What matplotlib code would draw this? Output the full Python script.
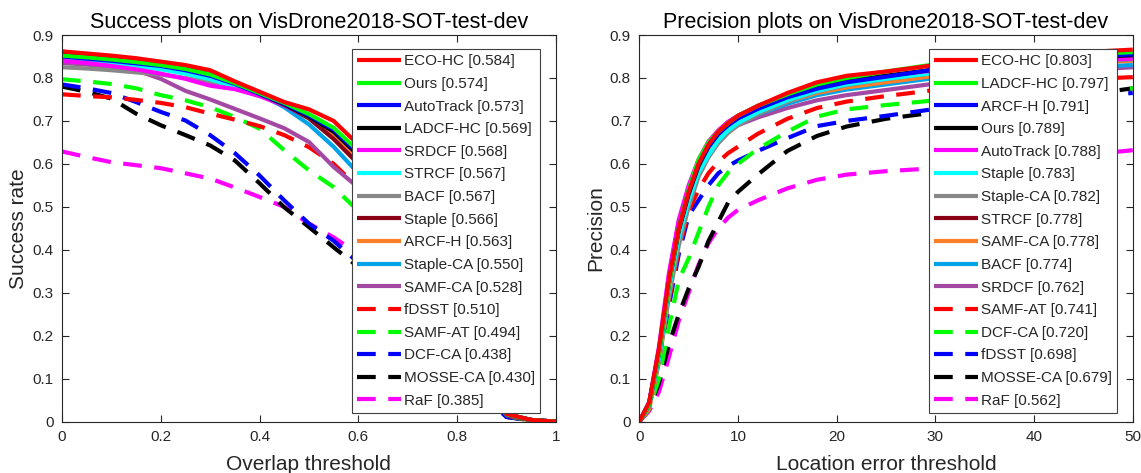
import numpy as np
import matplotlib
matplotlib.use("Agg")
import matplotlib.pyplot as plt

plt.rcParams['font.family'] = ['Liberation Sans', 'DejaVu Sans']

# ---- success plot data (overlap threshold 0:0.05:1) ----
succ_x = [0, 0.05, 0.1, 0.15, 0.2, 0.25, 0.3, 0.35, 0.4, 0.45, 0.5,
          0.55, 0.6, 0.65, 0.7, 0.75, 0.8, 0.85, 0.9, 0.95, 1.0]

s_eco = [0.862, 0.857, 0.852, 0.846, 0.838, 0.830, 0.818, 0.792, 0.768, 0.744, 0.727,
         0.700, 0.645, 0.570, 0.480, 0.370, 0.250, 0.120, 0.018, 0.004, 0]
s_ours = [0.852, 0.848, 0.843, 0.837, 0.830, 0.821, 0.808, 0.788, 0.765, 0.742, 0.716,
          0.684, 0.630, 0.555, 0.465, 0.360, 0.245, 0.115, 0.017, 0.004, 0]
s_auto = [0.850, 0.845, 0.840, 0.834, 0.828, 0.818, 0.805, 0.786, 0.763, 0.740, 0.713,
          0.680, 0.625, 0.550, 0.462, 0.358, 0.244, 0.115, 0.017, 0.004, 0]
s_ladcf = [0.857, 0.852, 0.846, 0.840, 0.832, 0.822, 0.808, 0.788, 0.763, 0.738, 0.710,
           0.675, 0.620, 0.547, 0.458, 0.355, 0.243, 0.114, 0.017, 0.004, 0]
s_srdcf = [0.840, 0.835, 0.828, 0.820, 0.810, 0.798, 0.782, 0.774, 0.758, 0.736, 0.710,
           0.675, 0.620, 0.546, 0.457, 0.354, 0.242, 0.114, 0.017, 0.004, 0]
s_strcf = [0.845, 0.840, 0.834, 0.828, 0.820, 0.810, 0.797, 0.780, 0.760, 0.738, 0.712,
           0.676, 0.620, 0.546, 0.457, 0.353, 0.242, 0.113, 0.017, 0.004, 0]
s_bacf = [0.825, 0.822, 0.818, 0.813, 0.808, 0.800, 0.790, 0.776, 0.758, 0.738, 0.712,
          0.678, 0.620, 0.545, 0.456, 0.352, 0.241, 0.113, 0.017, 0.004, 0]
s_staple = [0.857, 0.851, 0.845, 0.838, 0.830, 0.820, 0.806, 0.788, 0.765, 0.738, 0.706,
            0.658, 0.600, 0.530, 0.445, 0.345, 0.238, 0.112, 0.016, 0.004, 0]
s_arcf = [0.848, 0.843, 0.838, 0.832, 0.825, 0.816, 0.803, 0.786, 0.764, 0.738, 0.708,
          0.668, 0.610, 0.535, 0.448, 0.347, 0.239, 0.112, 0.016, 0.004, 0]
s_stapleca = [0.845, 0.840, 0.835, 0.830, 0.824, 0.815, 0.803, 0.786, 0.762, 0.732, 0.692,
              0.640, 0.578, 0.505, 0.425, 0.330, 0.228, 0.108, 0.016, 0.004, 0]
s_samfca = [0.835, 0.831, 0.826, 0.818, 0.798, 0.770, 0.750, 0.728, 0.706, 0.683, 0.651,
            0.593, 0.545, 0.478, 0.400, 0.312, 0.218, 0.104, 0.015, 0.004, 0]
s_fdsst = [0.762, 0.758, 0.755, 0.749, 0.742, 0.732, 0.717, 0.703, 0.688, 0.667, 0.639,
           0.600, 0.545, 0.475, 0.390, 0.300, 0.200, 0.090, 0.014, 0.003, 0]
s_samfat = [0.797, 0.792, 0.786, 0.776, 0.760, 0.748, 0.732, 0.709, 0.682, 0.632, 0.585,
            0.546, 0.490, 0.420, 0.345, 0.265, 0.180, 0.085, 0.013, 0.003, 0]
s_dcfca = [0.785, 0.776, 0.765, 0.744, 0.721, 0.701, 0.667, 0.625, 0.573, 0.515, 0.461,
           0.421, 0.370, 0.310, 0.250, 0.185, 0.120, 0.060, 0.011, 0.003, 0]
s_mosse = [0.780, 0.768, 0.752, 0.717, 0.690, 0.667, 0.643, 0.608, 0.555, 0.499, 0.453,
           0.406, 0.360, 0.300, 0.240, 0.180, 0.118, 0.058, 0.011, 0.003, 0]
s_raf = [0.629, 0.616, 0.604, 0.597, 0.590, 0.578, 0.566, 0.545, 0.523, 0.500, 0.461,
         0.429, 0.390, 0.330, 0.270, 0.200, 0.135, 0.065, 0.012, 0.003, 0]

succ_names = ['ECO-HC', 'Ours', 'AutoTrack', 'LADCF-HC', 'SRDCF', 'STRCF', 'BACF',
              'Staple', 'ARCF-H', 'Staple-CA', 'SAMF-CA', 'fDSST', 'SAMF-AT',
              'DCF-CA', 'MOSSE-CA', 'RaF']
succ_scores = [0.584, 0.574, 0.573, 0.569, 0.568, 0.567, 0.567, 0.566, 0.563,
               0.550, 0.528, 0.510, 0.494, 0.438, 0.430, 0.385]
succ_curves = [s_eco, s_ours, s_auto, s_ladcf, s_srdcf, s_strcf, s_bacf, s_staple,
               s_arcf, s_stapleca, s_samfca, s_fdsst, s_samfat, s_dcfca, s_mosse, s_raf]

# ---- precision plot data (location error threshold) ----
prec_x = [0, 1, 2, 3, 4, 5, 6, 7, 8, 9, 10, 12, 15, 18, 21, 25, 30, 35, 40, 45, 50]

p_eco = [0, 0.045, 0.170, 0.330, 0.450, 0.535, 0.600, 0.645, 0.675, 0.695, 0.712,
         0.735, 0.765, 0.790, 0.805, 0.815, 0.830, 0.842, 0.852, 0.860, 0.866]
p_ladcf = [0, 0.040, 0.160, 0.320, 0.450, 0.540, 0.610, 0.650, 0.675, 0.695, 0.712,
           0.735, 0.762, 0.785, 0.800, 0.815, 0.832, 0.842, 0.850, 0.856, 0.860]
p_arcf = [0, 0.042, 0.165, 0.325, 0.450, 0.535, 0.600, 0.640, 0.670, 0.690, 0.706,
          0.728, 0.755, 0.775, 0.790, 0.803, 0.820, 0.832, 0.842, 0.850, 0.855]
p_ours = [0, 0.040, 0.160, 0.320, 0.445, 0.530, 0.595, 0.640, 0.670, 0.692, 0.708,
          0.730, 0.757, 0.778, 0.792, 0.805, 0.820, 0.830, 0.840, 0.848, 0.853]
p_auto = [0, 0.045, 0.175, 0.345, 0.470, 0.550, 0.610, 0.652, 0.678, 0.698, 0.712,
          0.735, 0.760, 0.780, 0.793, 0.805, 0.818, 0.828, 0.835, 0.840, 0.845]
p_staple = [0, 0.040, 0.150, 0.310, 0.430, 0.515, 0.580, 0.620, 0.655, 0.678, 0.695,
            0.720, 0.748, 0.770, 0.785, 0.798, 0.812, 0.825, 0.835, 0.842, 0.848]
p_stapleca = [0, 0.035, 0.140, 0.290, 0.410, 0.500, 0.570, 0.615, 0.648, 0.672, 0.690,
              0.715, 0.745, 0.768, 0.783, 0.797, 0.812, 0.823, 0.832, 0.838, 0.843]
p_strcf = [0, 0.040, 0.160, 0.325, 0.450, 0.535, 0.600, 0.645, 0.675, 0.697, 0.712,
           0.732, 0.757, 0.777, 0.790, 0.802, 0.815, 0.827, 0.838, 0.847, 0.853]
p_samfca = [0, 0.030, 0.140, 0.300, 0.430, 0.520, 0.585, 0.630, 0.660, 0.682, 0.698,
            0.720, 0.745, 0.765, 0.778, 0.790, 0.805, 0.818, 0.828, 0.836, 0.840]
p_bacf = [0, 0.045, 0.165, 0.330, 0.450, 0.530, 0.590, 0.632, 0.660, 0.680, 0.695,
          0.715, 0.740, 0.760, 0.773, 0.785, 0.800, 0.812, 0.820, 0.826, 0.830]
p_srdcf = [0, 0.040, 0.170, 0.340, 0.465, 0.545, 0.600, 0.635, 0.660, 0.677, 0.690,
           0.708, 0.730, 0.748, 0.760, 0.772, 0.787, 0.800, 0.810, 0.818, 0.825]
p_samfat = [0, 0.040, 0.150, 0.280, 0.400, 0.490, 0.540, 0.578, 0.605, 0.625, 0.640,
            0.670, 0.705, 0.730, 0.745, 0.758, 0.772, 0.782, 0.790, 0.797, 0.802]
p_dcfca = [0, 0.030, 0.100, 0.220, 0.330, 0.380, 0.440, 0.500, 0.550, 0.580, 0.600,
           0.635, 0.675, 0.710, 0.727, 0.737, 0.748, 0.758, 0.766, 0.772, 0.776]
p_fdsst = [0, 0.040, 0.140, 0.270, 0.390, 0.480, 0.515, 0.550, 0.578, 0.595, 0.608,
           0.630, 0.660, 0.688, 0.700, 0.712, 0.728, 0.740, 0.750, 0.758, 0.765]
p_mosse = [0, 0.030, 0.090, 0.180, 0.250, 0.310, 0.360, 0.420, 0.465, 0.510, 0.535,
           0.575, 0.630, 0.665, 0.687, 0.705, 0.720, 0.730, 0.742, 0.760, 0.776]
p_raf = [0, 0.025, 0.070, 0.150, 0.235, 0.300, 0.365, 0.415, 0.450, 0.475, 0.493,
         0.515, 0.543, 0.563, 0.575, 0.583, 0.590, 0.600, 0.610, 0.620, 0.632]

prec_names = ['ECO-HC', 'LADCF-HC', 'ARCF-H', 'Ours', 'AutoTrack', 'Staple',
              'Staple-CA', 'STRCF', 'SAMF-CA', 'BACF', 'SRDCF', 'SAMF-AT',
              'DCF-CA', 'fDSST', 'MOSSE-CA', 'RaF']
prec_scores = [0.803, 0.797, 0.791, 0.789, 0.788, 0.783, 0.782, 0.778, 0.778,
               0.774, 0.762, 0.741, 0.720, 0.698, 0.679, 0.562]
prec_curves = [p_eco, p_ladcf, p_arcf, p_ours, p_auto, p_staple, p_stapleca, p_strcf,
               p_samfca, p_bacf, p_srdcf, p_samfat, p_dcfca, p_fdsst, p_mosse, p_raf]

# OTB-style colour / line style per rank
colors = ['#ff0000', '#00ff00', '#0000ff', '#000000', '#ff00ff', '#00ffff',
          '#888888', '#880015', '#ff7f27', '#00a2e8', '#a349a4',
          '#ff0000', '#00ff00', '#0000ff', '#000000', '#ff00ff']
styles = ['-'] * 11 + [(0, (4.5, 3))] * 5

fig = plt.figure(figsize=(11.41, 4.73), dpi=100)
ax1 = fig.add_axes([0.0543, 0.1085, 0.4329, 0.8175])
ax2 = fig.add_axes([0.5603, 0.1085, 0.4325, 0.8175])

axcol = '#262626'


def draw(ax, xs, curves, names, scores, title, xlabel, ylabel, xlim, xticks, xticklabels):
    lines = []
    for i in range(len(curves) - 1, -1, -1):
        ln, = ax.plot(xs, curves[i], color=colors[i], linestyle=styles[i], lw=3,
                      label='%s [%.3f]' % (names[i], scores[i]),
                      solid_capstyle='butt', dash_capstyle='butt')
        lines.append(ln)
    lines = lines[::-1]
    ax.set_xlim(*xlim)
    ax.set_ylim(0, 0.9)
    ax.set_xticks(xticks)
    ax.set_xticklabels(xticklabels)
    ax.set_yticks([0, 0.1, 0.2, 0.3, 0.4, 0.5, 0.6, 0.7, 0.8, 0.9])
    ax.set_yticklabels(['0', '0.1', '0.2', '0.3', '0.4', '0.5', '0.6', '0.7', '0.8', '0.9'])
    ax.tick_params(direction='in', top=True, right=True, length=5, width=0.8,
                   labelsize=11, colors=axcol, pad=6)
    for s in ax.spines.values():
        s.set_color(axcol)
        s.set_linewidth(0.8)
    ax.set_title(title, fontsize=15.5, pad=5)
    ax.set_xlabel(xlabel, fontsize=15, color=axcol, labelpad=8)
    ax.set_ylabel(ylabel, fontsize=15, color=axcol, labelpad=3)
    leg = ax.legend(handles=lines, loc='upper right', bbox_to_anchor=(0.968, 0.964),
                    borderaxespad=0, fontsize=11, frameon=True, fancybox=False,
                    handlelength=2.9, handletextpad=0.15, labelspacing=0.565,
                    borderpad=0.35, framealpha=1)
    leg.get_frame().set_edgecolor('#404040')
    leg.get_frame().set_linewidth(0.8)
    for t in leg.get_texts():
        t.set_color(axcol)


draw(ax1, succ_x, succ_curves, succ_names, succ_scores,
     'Success plots on VisDrone2018-SOT-test-dev', 'Overlap threshold', 'Success rate',
     (0, 1), [0, 0.2, 0.4, 0.6, 0.8, 1], ['0', '0.2', '0.4', '0.6', '0.8', '1'])
draw(ax2, prec_x, prec_curves, prec_names, prec_scores,
     'Precision plots on VisDrone2018-SOT-test-dev', 'Location error threshold', 'Precision',
     (0, 50), [0, 10, 20, 30, 40, 50], ['0', '10', '20', '30', '40', '50'])

fig.savefig('out.png', dpi=100)
